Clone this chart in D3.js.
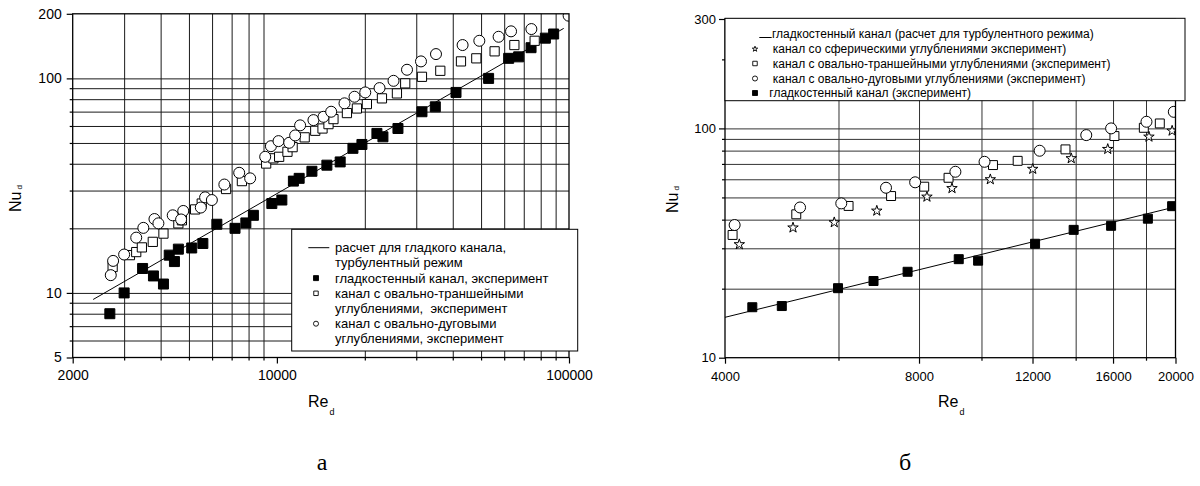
<!DOCTYPE html>
<html>
<head>
<meta charset="utf-8">
<script src="https://cdn.jsdelivr.net/npm/d3@7"></script>
<style>
  body { margin: 0; background: #fff; }
  svg { display: block; font-family: "Liberation Sans", Arial, sans-serif; }
  .grid path { display: none; }
  .axis path { display: none; }
  .axis line { stroke: #000; stroke-width: 1.2; }
  .axis text { fill: #000; }
</style>
</head>
<body>
<svg id="chart" width="1200" height="486"></svg>
<script>
// ---------- panel а : Nu_d vs Re_d, 2000..100000 ----------
const aXTicks = [2000, 10000, 100000];
const aXMinor = [3000, 4000, 5000, 6000, 7000, 8000, 9000, 20000, 30000, 40000, 50000, 60000, 70000, 80000, 90000];
const aYTicks = [5, 10, 100, 200];
const aYMinor = [6, 7, 8, 9, 20, 30, 40, 50, 60, 70, 80, 90];
const aGridY = [6, 7, 8, 9, 10, 20, 30, 40, 50, 60, 70, 80, 90, 100];

// calculated line for smooth channel (turbulent)
const aCalc = [[2350, 9.32], [95900, 171]];
// smooth channel, experiment (filled squares)
const aSmooth = [
  [2680, 8.0], [3000, 10.0], [3470, 13.0], [3780, 12.0], [4090, 11.0], [4280, 15.0],
  [4460, 14.0], [4600, 16.0], [5110, 16.2], [5580, 17.0], [6230, 20.9], [7190, 20.0],
  [7830, 21.2], [8310, 23.0], [9610, 26.1], [10400, 27.1], [11390, 33.2], [11920, 34.2],
  [13180, 36.9], [14830, 39.4], [16470, 40.8], [18210, 47.2], [19550, 49.2], [22000, 55.4],
  [23070, 53.4], [25970, 58.4], [31380, 69.9], [34860, 73.7], [41040, 86.0], [53060, 100],
  [62150, 124], [67240, 126], [74140, 139], [83000, 154], [88600, 161]
];
// oval-trench dimples (open squares)
const aTrench = [
  [2740, 13.2], [3140, 15.0], [3300, 15.5], [3450, 16.3], [3760, 17.3], [4090, 18.9],
  [4600, 21.1], [4730, 21.8], [5250, 24.5], [5530, 26.1], [6700, 30.5], [7590, 33.2],
  [9190, 40.1], [9730, 42.4], [10180, 43.1], [10870, 45.5], [11320, 47.8], [12450, 53.1],
  [13530, 57.0], [14330, 58.4], [15020, 61.2], [15620, 64.6], [17370, 68.9], [18790, 72.4],
  [20330, 75.9], [22890, 80.7], [25760, 85.1], [27500, 94.8], [31380, 101.7], [36260, 108.5],
  [42680, 120], [48160, 124], [55640, 133.7], [65010, 143], [76290, 149.7]
];
// oval-arc dimples (open circles)
const aArc = [
  [2700, 12.1], [2750, 14.1], [3000, 15.1], [3300, 18.1], [3490, 20.1], [3810, 22.1],
  [3930, 21.1], [4400, 23.0], [4780, 24.1], [4700, 22.0], [5490, 25.0], [5680, 27.9],
  [5990, 27.1], [6610, 32.0], [7430, 36.3], [8100, 34.2], [9120, 43.1], [9540, 48.3],
  [10130, 51.0], [11020, 50.1], [11550, 54.2], [12010, 60.4], [13340, 63.9], [14440, 66.2],
  [15340, 69.9], [17040, 76.5], [18440, 82.1], [20070, 86.0], [22460, 90.1], [25080, 97.4],
  [27890, 109.7], [31140, 120], [35050, 129.8], [43230, 143], [49320, 149.7], [57420, 156.3],
  [63330, 165.7], [74330, 169.8], [99700, 196]
];
const aLegendText = [
  "расчет для гладкого канала,",
  "турбулентный режим",
  "гладкостенный канал, эксперимент",
  "канал с овально-траншейными",
  "углублениями,  эксперимент",
  "канал с овально-дуговыми",
  "углублениями, эксперимент"
];

// ---------- panel б : Nu_d vs Re_d, 4000..20000 ----------
const bXTicks = [4000, 8000, 12000, 16000, 20000];
const bXMinor = [6000, 10000, 14000, 18000];
const bGridX = [6000, 8000, 10000, 12000, 14000, 16000, 18000];
const bYTicks = [10, 100, 300];
const bYMinor = [20, 30, 40, 50, 60, 70, 80, 90, 200];
const bGridY = [20, 30, 40, 50, 60, 70, 80, 90, 100];

const bCalc = [[4000, 15.0], [20000, 45.5]];
const bSmooth = [
  [4410, 16.6], [4900, 16.8], [5990, 20.1], [6800, 21.6], [7680, 23.7], [9220, 26.9],
  [9880, 26.5], [12110, 31.4], [13900, 36.1], [15890, 37.6], [18120, 40.4], [19760, 45.8]
];
// spherical dimples (stars)
const bSpherical = [
  [4210, 31.2], [5100, 36.9], [5910, 38.9], [6880, 43.7], [8230, 50.3], [9000, 54.8],
  [10320, 59.9], [12010, 66.5], [13780, 74.0], [15700, 81.2], [18190, 91.9], [19760, 97.6]
];
const bTrench = [
  [4110, 34.3], [5160, 42.2], [6220, 45.9], [7240, 50.7], [8150, 55.7], [8890, 60.9],
  [10420, 69.2], [11380, 72.2], [13500, 81.0], [16080, 92.6], [17860, 100.6], [18910, 105.1]
];
const bArc = [
  [4140, 37.9], [5230, 45.2], [6060, 47.1], [7110, 55.1], [7890, 58.2], [9110, 64.7],
  [10110, 71.5], [12310, 79.9], [14540, 93.5], [15890, 100], [18030, 106.9], [19880, 118.1]
];
const bLegendText = [
  "гладкостенный канал (расчет для турбулентного режима)",
  "канал со сферическими углублениями эксперимент)",
  "канал с овально-траншейными углублениями (эксперимент)",
  "канал с овально-дуговыми углублениями (эксперимент)",
  "гладкостенный канал (эксперимент)"
];

const svg = d3.select("#chart");

class LogPanel {
  constructor(_config) {
    this.config = _config;
    this.initVis();
  }

  initVis() {
    let vis = this;
    const c = vis.config;
    vis.x = d3.scaleLog().domain(c.xDomain).range(c.xRange);
    vis.y = d3.scaleLog().domain(c.yDomain).range(c.yRange);
    vis.x0 = c.xRange[0];
    vis.x1 = c.xRange[1];
    vis.yTop = c.yRange[1];
    vis.yBot = c.yRange[0];
    vis.w = vis.x1 - vis.x0;
    vis.h = vis.yBot - vis.yTop;
    vis.g = svg.append("g");
    vis.renderVis();
  }

  renderVis() {
    let vis = this;
    const c = vis.config;
    const g = vis.g;

    // gridlines
    g.append("g").attr("class", "grid")
      .attr("transform", `translate(0,${vis.yBot})`)
      .call(d3.axisBottom(vis.x).tickValues(c.gridX).tickSize(-vis.h).tickFormat(""))
      .selectAll("line").attr("stroke", c.gridColor);
    g.append("g").attr("class", "grid")
      .attr("transform", `translate(${vis.x0},0)`)
      .call(d3.axisLeft(vis.y).tickValues(c.gridY).tickSize(-vis.w).tickFormat(""))
      .selectAll("line").attr("stroke", c.gridColor);

    // clip marks to the plot frame
    g.append("clipPath").attr("id", c.id + "-clip")
      .append("rect")
      .attr("x", vis.x0).attr("y", vis.yTop)
      .attr("width", vis.w).attr("height", vis.h);
    const plot = g.append("g").attr("clip-path", `url(#${c.id}-clip)`);

    plot.append("path")
      .datum(c.calc)
      .attr("fill", "none")
      .attr("stroke", "#000")
      .attr("stroke-width", 1)
      .attr("d", d3.line().x((d) => vis.x(d[0])).y((d) => vis.y(d[1])));

    c.markers.forEach((m) => {
      plot.append("g").selectAll("path")
        .data(m.data)
        .join("path")
        .attr("transform", (d) => `translate(${vis.x(d[0])},${vis.y(d[1])})`)
        .attr("d", d3.symbol(m.type, m.size)())
        .attr("fill", m.fill)
        .attr("stroke", "#000")
        .attr("stroke-width", 1);
    });

    // frame
    g.append("rect")
      .attr("x", vis.x0).attr("y", vis.yTop)
      .attr("width", vis.w).attr("height", vis.h)
      .attr("fill", "none").attr("stroke", "#000").attr("stroke-width", 1.3);

    // axes: major ticks with labels, minor ticks without
    g.append("g").attr("class", "axis")
      .attr("transform", `translate(0,${vis.yBot})`)
      .call(d3.axisBottom(vis.x).tickValues(c.xTicks).tickSize(6)
        .tickPadding(c.xPad).tickFormat(d3.format("d")))
      .selectAll("text").style("font-size", c.tickFont + "px");
    g.append("g").attr("class", "axis")
      .attr("transform", `translate(0,${vis.yBot})`)
      .call(d3.axisBottom(vis.x).tickValues(c.xMinor).tickSize(3).tickFormat(""));
    g.append("g").attr("class", "axis")
      .attr("transform", `translate(${vis.x0},0)`)
      .call(d3.axisLeft(vis.y).tickValues(c.yTicks).tickSize(6)
        .tickPadding(c.yPad).tickFormat(d3.format("d")))
      .selectAll("text").style("font-size", c.tickFont + "px");
    g.append("g").attr("class", "axis")
      .attr("transform", `translate(${vis.x0},0)`)
      .call(d3.axisLeft(vis.y).tickValues(c.yMinor).tickSize(3).tickFormat(""));

    // axis titles
    const xt = g.append("text")
      .attr("x", c.xTitle[0]).attr("y", c.xTitle[1])
      .style("font-size", "16px");
    xt.append("tspan").text("Re");
    xt.append("tspan").attr("dx", 1).attr("dy", 8).style("font-size", "9px").text("d");

    const yt = g.append("text")
      .attr("transform", `translate(${c.yTitle[0]},${c.yTitle[1]}) rotate(-90)`)
      .style("font-size", "16px");
    yt.append("tspan").text("Nu");
    yt.append("tspan").attr("dx", 2).attr("dy", 1).style("font-size", "8px").text("d");

    // legend
    const L = c.legend;
    g.append("rect")
      .attr("x", L.box[0]).attr("y", L.box[1])
      .attr("width", L.box[2]).attr("height", L.box[3])
      .attr("fill", "#fff").attr("stroke", "#000").attr("stroke-width", 1);
    L.texts.forEach((t, i) => {
      g.append("text")
        .attr("x", L.textX[i]).attr("y", L.rowY[i])
        .attr("dy", "0.35em")
        .style("font-size", L.font + "px")
        .style("white-space", "pre")
        .text(t);
    });
    L.symbols.forEach((s) => {
      const y = L.rowY[s.row];
      if (s.type === "line") {
        g.append("line")
          .attr("x1", s.x[0]).attr("x2", s.x[1])
          .attr("y1", y + s.dy).attr("y2", y + s.dy)
          .attr("stroke", "#000").attr("stroke-width", 1);
      } else {
        g.append("path")
          .attr("transform", `translate(${s.x},${y})`)
          .attr("d", d3.symbol(s.type, s.size)())
          .attr("fill", s.fill).attr("stroke", "#000").attr("stroke-width", 0.9);
      }
    });

    // panel caption
    g.append("text")
      .attr("x", c.caption[0]).attr("y", c.caption[1])
      .attr("text-anchor", "middle")
      .style("font-family", '"Liberation Serif", "Times New Roman", serif')
      .style("font-size", "24px")
      .text(c.caption[2]);
  }
}

new LogPanel({
  id: "pa",
  xDomain: [2000, 100000], xRange: [72.7, 569],
  yDomain: [5, 200], yRange: [357.5, 13.8],
  xTicks: aXTicks, xMinor: aXMinor, yTicks: aYTicks, yMinor: aYMinor,
  gridX: aXMinor, gridY: aGridY, gridColor: "#1a1a1a",
  tickFont: 14, xPad: 7, yPad: 5,
  calc: aCalc,
  markers: [
    { data: aSmooth, type: d3.symbolSquare, size: 100, fill: "#000" },
    { data: aTrench, type: d3.symbolSquare, size: 85, fill: "#fff" },
    { data: aArc, type: d3.symbolCircle, size: 95, fill: "#fff" }
  ],
  xTitle: [308, 406.5], yTitle: [21, 212],
  legend: {
    box: [291.7, 229.3, 286, 121.7],
    font: 13,
    texts: aLegendText,
    textX: [335, 335, 335, 335, 335, 335, 335],
    rowY: [247.7, 262.9, 278.1, 293.3, 308.5, 323.7, 338.9],
    symbols: [
      { row: 0, type: "line", x: [308.3, 329.3], dy: 0 },
      { row: 2, type: d3.symbolSquare, size: 25, fill: "#000", x: 316 },
      { row: 3, type: d3.symbolSquare, size: 20, fill: "#fff", x: 316 },
      { row: 5, type: d3.symbolCircle, size: 20, fill: "#fff", x: 316 }
    ]
  },
  caption: [322, 470, "а"]
});

new LogPanel({
  id: "pb",
  xDomain: [4000, 20000], xRange: [725, 1175.5],
  yDomain: [10, 300], yRange: [357.7, 19],
  xTicks: bXTicks, xMinor: bXMinor, yTicks: bYTicks, yMinor: bYMinor,
  gridX: bGridX, gridY: bGridY, gridColor: "#333",
  tickFont: 13, xPad: 8, yPad: 3,
  calc: bCalc,
  markers: [
    { data: bSmooth, type: d3.symbolSquare, size: 81, fill: "#000" },
    { data: bSpherical, type: d3.symbolStar, size: 34, fill: "#fff" },
    { data: bTrench, type: d3.symbolSquare, size: 80, fill: "#fff" },
    { data: bArc, type: d3.symbolCircle, size: 95, fill: "#fff" }
  ],
  xTitle: [938, 407], yTitle: [678, 213],
  legend: {
    box: [725, 18.3, 460, 82.4],
    font: 12,
    texts: bLegendText,
    textX: [772, 772.7, 772.7, 772.7, 769.3],
    rowY: [34, 49, 63.5, 78.5, 93],
    symbols: [
      { row: 0, type: "line", x: [759.3, 771.7], dy: 3.5 },
      { row: 1, type: d3.symbolStar, size: 9, fill: "#fff", x: 755 },
      { row: 2, type: d3.symbolSquare, size: 20, fill: "#fff", x: 755 },
      { row: 3, type: d3.symbolCircle, size: 20, fill: "#fff", x: 755 },
      { row: 4, type: d3.symbolSquare, size: 25, fill: "#000", x: 755 }
    ]
  },
  caption: [905, 470, "б"]
});
</script>
</body>
</html>
